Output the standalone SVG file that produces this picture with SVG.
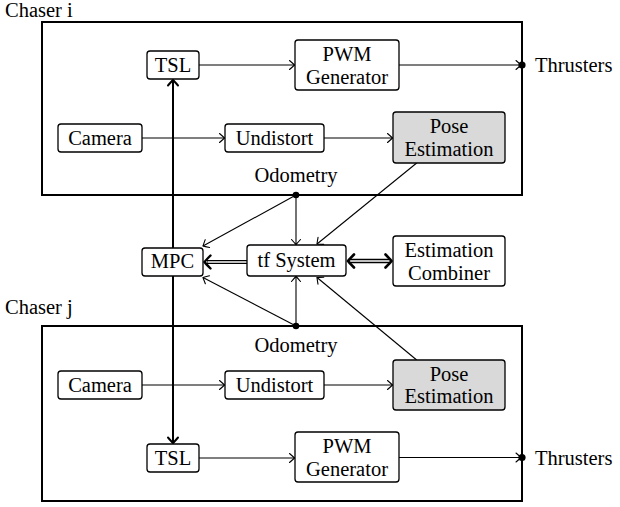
<svg xmlns="http://www.w3.org/2000/svg" width="620" height="507" viewBox="0 0 620 507">
<style>
.t{font-family:"Liberation Serif","Times New Roman",serif;font-size:20.5px;fill:#000}
.c{text-anchor:middle}
.node{fill:#fff;stroke:#000;stroke-width:1.3}
.gray{fill:#d9d9d9}
.box{fill:none;stroke:#000;stroke-width:2}
.thin{fill:none;stroke:#000;stroke-width:1.1;marker-end:url(#to)}
.thick{fill:none;stroke:#000;stroke-width:2;marker-start:url(#toT);marker-end:url(#toT)}
</style>
<defs>
<marker id="to" viewBox="-7 -6 9 12" refX="0" refY="0" markerWidth="9" markerHeight="12" orient="auto-start-reverse" markerUnits="userSpaceOnUse">
<path d="M-5,-4.5 Q-1.2,-1.2 0,0 Q-1.2,1.2 -5,4.5" fill="none" stroke="#000" stroke-width="1.1" stroke-linecap="round"/>
</marker>
<marker id="toT" viewBox="-8 -7 10 14" refX="0" refY="0" markerWidth="10" markerHeight="14" orient="auto-start-reverse" markerUnits="userSpaceOnUse">
<path d="M-5.5,-5 Q-1.3,-1.3 0,0 Q-1.3,1.3 -5.5,5" fill="none" stroke="#000" stroke-width="2" stroke-linecap="round"/>
</marker>
</defs>
<rect width="620" height="507" fill="#fff"/>
<g id="containers">
<rect class="box" x="42" y="22" width="480" height="173"/>
<rect class="box" x="42" y="326" width="480" height="175"/>
<text class="t" x="5" y="17">Chaser i</text>
<text class="t" x="5" y="314">Chaser j</text>
<text class="t c" x="296" y="181.7">Odometry</text>
<text class="t c" x="296" y="351.7">Odometry</text>
<text class="t" x="535" y="72">Thrusters</text>
<text class="t" x="535" y="464.5">Thrusters</text>
</g>
<g id="connectors">
<line class="thick" x1="173" y1="80" x2="173" y2="443"/>
<line class="thin" x1="199" y1="65" x2="294.5" y2="65"/>
<line class="thin" x1="399" y1="65" x2="521" y2="65"/>
<line class="thin" x1="142" y1="138" x2="224.5" y2="138"/>
<line class="thin" x1="324" y1="138" x2="392.5" y2="138"/>
<line class="thin" x1="142" y1="385" x2="224.5" y2="385"/>
<line class="thin" x1="324" y1="385" x2="392.5" y2="385"/>
<line class="thin" x1="199" y1="458" x2="294.5" y2="458"/>
<line class="thin" x1="399" y1="457.5" x2="521" y2="457.5"/>
<line class="thin" x1="296" y1="195" x2="203" y2="246"/>
<line class="thin" x1="296" y1="195" x2="296" y2="244.5"/>
<line class="thin" x1="416.7" y1="163" x2="317" y2="244"/>
<line class="thin" x1="296" y1="326" x2="203" y2="277.5"/>
<line class="thin" x1="296" y1="326" x2="296" y2="276.5"/>
<line class="thin" x1="416.7" y1="360" x2="317" y2="277.5"/>
<circle cx="296" cy="195" r="3.3"/>
<circle cx="296" cy="326" r="3.3"/>
<circle cx="522" cy="65" r="3.6"/>
<circle cx="522" cy="457.5" r="3.6"/>
<line x1="247" y1="262" x2="207" y2="262" stroke="#000" stroke-width="4.2"/>
<line x1="248" y1="262" x2="207.5" y2="262" stroke="#fff" stroke-width="1.6"/>
<path d="M210.5,255.5 Q206,260 204.5,262 Q206,264 210.5,268.5" fill="none" stroke="#000" stroke-width="2.4" stroke-linecap="round"/>
<line x1="350" y1="261" x2="389" y2="261" stroke="#000" stroke-width="4.4"/>
<line x1="349" y1="261" x2="390" y2="261" stroke="#fff" stroke-width="1.4"/>
<path d="M354,254.5 Q349.5,259 348,261 Q349.5,263 354,267.5" fill="none" stroke="#000" stroke-width="2.6" stroke-linecap="round"/>
<path d="M385.5,254.5 Q390,259 391.5,261 Q390,263 385.5,267.5" fill="none" stroke="#000" stroke-width="2.6" stroke-linecap="round"/>
</g>
<g id="tsl-i"><rect class="node" x="147" y="51" width="52" height="28" rx="3"/><text class="t c" x="173" y="72">TSL</text></g>
<g id="pwm-i"><rect class="node" x="295" y="40" width="104" height="50" rx="3"/><text class="t c" x="347" y="61">PWM</text><text class="t c" x="347" y="83.7">Generator</text></g>
<g id="camera-i"><rect class="node" x="58" y="124" width="84" height="28" rx="3"/><text class="t c" x="100" y="145">Camera</text></g>
<g id="undistort-i"><rect class="node" x="225" y="124" width="99" height="28" rx="3"/><text class="t c" x="274.5" y="145">Undistort</text></g>
<g id="pose-i"><rect class="node gray" x="393" y="112" width="112" height="51" rx="3"/><text class="t c" x="449" y="133">Pose</text><text class="t c" x="449" y="155.7">Estimation</text></g>
<g id="mpc"><rect class="node" x="142" y="248" width="61" height="28" rx="3"/><text class="t c" x="172.5" y="268">MPC</text></g>
<g id="tf"><rect class="node" x="247" y="245" width="99" height="31" rx="3"/><text class="t c" x="296.5" y="267">tf System</text></g>
<g id="combiner"><rect class="node" x="393" y="236" width="112" height="50" rx="3"/><text class="t c" x="449" y="257">Estimation</text><text class="t c" x="449" y="279.7">Combiner</text></g>
<g id="camera-j"><rect class="node" x="58" y="371" width="84" height="28" rx="3"/><text class="t c" x="100" y="392">Camera</text></g>
<g id="undistort-j"><rect class="node" x="225" y="371" width="99" height="28" rx="3"/><text class="t c" x="274.5" y="392">Undistort</text></g>
<g id="pose-j"><rect class="node gray" x="393" y="360" width="112" height="50" rx="3"/><text class="t c" x="449" y="380.6">Pose</text><text class="t c" x="449" y="403.3">Estimation</text></g>
<g id="tsl-j"><rect class="node" x="147" y="444" width="52" height="28" rx="3"/><text class="t c" x="173" y="465">TSL</text></g>
<g id="pwm-j"><rect class="node" x="295" y="432" width="104" height="50" rx="3"/><text class="t c" x="347" y="453.2">PWM</text><text class="t c" x="347" y="475.9">Generator</text></g>
</svg>
